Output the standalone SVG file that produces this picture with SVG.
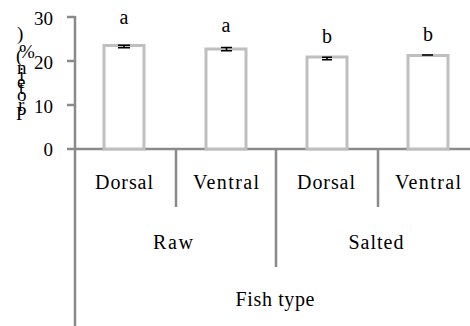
<svg xmlns="http://www.w3.org/2000/svg" width="470" height="326" viewBox="0 0 470 326">
<style>
text{font-family:'Liberation Serif','DejaVu Serif',serif;fill:#000}
.tick{font-size:19px;text-anchor:end}
.lbl{font-size:20px;text-anchor:middle}
.ax{stroke:#8a8a8a;stroke-width:2.5;fill:none}
.bar{fill:#fff;stroke:#bfbfbf;stroke-width:3}
.err{stroke:#000;stroke-width:1.6;fill:none}
</style>
<rect width="470" height="326" fill="#fff"/>
<g id="axes">
<line class="ax" x1="75" y1="16" x2="75" y2="326"/>
<line class="ax" x1="67" y1="149" x2="470" y2="149"/>
<line class="ax" x1="67" y1="17" x2="75" y2="17"/>
<line class="ax" x1="67" y1="61" x2="75" y2="61"/>
<line class="ax" x1="67" y1="105" x2="75" y2="105"/>
<line class="ax" x1="176" y1="149" x2="176" y2="207"/>
<line class="ax" x1="276" y1="149" x2="276" y2="267"/>
<line class="ax" x1="378" y1="149" x2="378" y2="207"/>
<text class="tick" x="53" y="25">30</text>
<text class="tick" x="53" y="69">20</text>
<text class="tick" x="53" y="113">10</text>
<text class="tick" x="53" y="156">0</text>
<text font-size="19" x="16 18 17 19 17 19 17 17 16 19 17" y="120 111 101 94 88 81 74 67 62 58 40">Protein (%)</text>
</g>
<g id="bar1">
<rect class="bar" x="104" y="45.5" width="40" height="103.5"/>
<path class="err" d="M118 45.3H130M118 47.7H130M124 45.3V47.7"/>
<text class="lbl" x="124" y="24">a</text>
</g>
<g id="bar2">
<rect class="bar" x="206" y="49" width="40" height="100"/>
<path class="err" d="M221 47.5H232M221 50.8H232M226.5 47.5V50.8"/>
<text class="lbl" x="226" y="32">a</text>
</g>
<g id="bar3">
<rect class="bar" x="307" y="57" width="40" height="92"/>
<path class="err" d="M322 57.3H332M322 59.7H332M327 57.3V59.7"/>
<text class="lbl" x="327" y="43">b</text>
</g>
<g id="bar4">
<rect class="bar" x="408" y="55.5" width="40" height="93.5"/>
<path class="err" d="M422 55H433"/>
<text class="lbl" x="428" y="41">b</text>
</g>
<g id="labels">
<text class="lbl" x="124" y="189" textLength="58">Dorsal</text>
<text class="lbl" x="226" y="189" textLength="66">Ventral</text>
<text class="lbl" x="326" y="189" textLength="58">Dorsal</text>
<text class="lbl" x="428" y="189" textLength="66">Ventral</text>
<text class="lbl" x="173" y="249" textLength="40">Raw</text>
<text class="lbl" x="376" y="249" textLength="55">Salted</text>
<text class="lbl" x="275" y="306" textLength="79">Fish type</text>
</g>
</svg>
